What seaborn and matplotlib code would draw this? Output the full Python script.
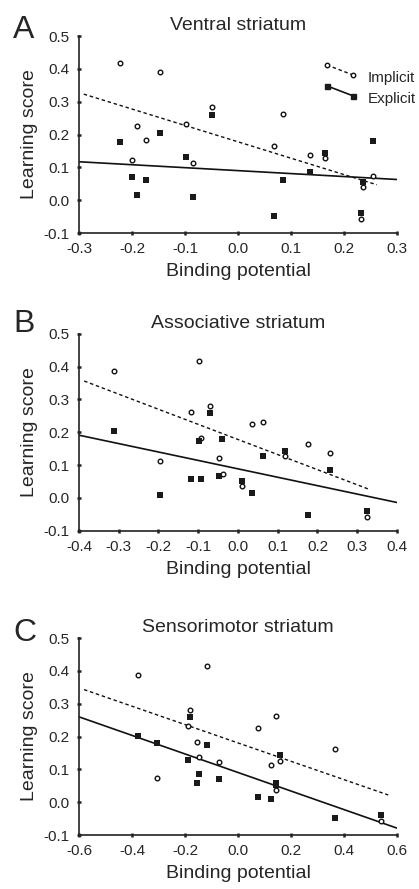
import numpy as np
import matplotlib
matplotlib.use('Agg')
import matplotlib.pyplot as plt
import seaborn as sns
from matplotlib.lines import Line2D
from matplotlib.legend_handler import HandlerLine2D

# Panel A - ventral striatum
A_imp_x = [-0.223, -0.148, -0.191, -0.174, -0.200, -0.098, -0.085, -0.049, 0.068, 0.085, 0.135, 0.165, 0.235, 0.232, 0.254]
A_imp_y = [0.417, 0.389, 0.227, 0.183, 0.122, 0.231, 0.113, 0.283, 0.164, 0.263, 0.138, 0.128, 0.039, -0.057, 0.074]
A_exp_x = [-0.222, -0.200, -0.191, -0.174, -0.148, -0.098, -0.085, -0.049, 0.068, 0.085, 0.135, 0.165, 0.235, 0.232, 0.254]
A_exp_y = [0.176, 0.070, 0.016, 0.060, 0.205, 0.131, 0.010, 0.260, -0.049, 0.060, 0.087, 0.143, 0.054, -0.039, 0.179]
A_imp_fit_x = [-0.291, 0.262]
A_imp_fit_y = [0.323, 0.047]
A_exp_fit_x = [-0.3, 0.3]
A_exp_fit_y = [0.117, 0.063]

# Panel B - associative striatum
B_imp_x = [-0.312, -0.098, -0.118, -0.070, -0.094, 0.036, 0.064, -0.048, -0.038, -0.195, 0.011, 0.117, 0.176, 0.231, 0.325]
B_imp_y = [0.386, 0.416, 0.261, 0.281, 0.183, 0.226, 0.230, 0.122, 0.073, 0.111, 0.037, 0.128, 0.163, 0.137, -0.059]
B_exp_x = [-0.312, -0.070, -0.099, -0.039, -0.118, -0.094, -0.048, -0.195, 0.011, 0.036, 0.064, 0.117, 0.176, 0.231, 0.325]
B_exp_y = [0.203, 0.258, 0.174, 0.178, 0.058, 0.058, 0.068, 0.008, 0.052, 0.014, 0.129, 0.142, -0.051, 0.085, -0.041]
B_imp_fit_x = [-0.387, 0.328]
B_imp_fit_y = [0.356, 0.027]
B_exp_fit_x = [-0.4, 0.4]
B_exp_fit_y = [0.191, -0.014]

# Panel C - sensorimotor striatum
C_imp_x = [-0.377, -0.116, -0.180, -0.188, -0.155, -0.148, -0.073, -0.307, 0.075, 0.142, 0.124, 0.159, 0.144, 0.365, 0.541]
C_imp_y = [0.387, 0.416, 0.282, 0.232, 0.183, 0.138, 0.123, 0.073, 0.227, 0.263, 0.113, 0.127, 0.038, 0.163, -0.056]
C_exp_x = [-0.377, -0.307, -0.180, -0.188, -0.117, -0.148, -0.155, -0.073, 0.075, 0.124, 0.142, 0.144, 0.159, 0.365, 0.541]
C_exp_y = [0.203, 0.179, 0.259, 0.130, 0.175, 0.086, 0.060, 0.070, 0.016, 0.010, 0.060, 0.051, 0.143, -0.048, -0.040]
C_imp_fit_x = [-0.581, 0.567]
C_imp_fit_y = [0.343, 0.022]
C_exp_fit_x = [-0.6, 0.6]
C_exp_fit_y = [0.260, -0.079]

titles = ['Ventral striatum', 'Associative striatum', 'Sensorimotor striatum']
letters = ['A', 'B', 'C']
x_ticks = [
    [-0.3, -0.2, -0.1, 0.0, 0.1, 0.2, 0.3],
    [-0.4, -0.3, -0.2, -0.1, 0.0, 0.1, 0.2, 0.3, 0.4],
    [-0.6, -0.4, -0.2, 0.0, 0.2, 0.4, 0.6],
]
y_ticks = [-0.1, 0.0, 0.1, 0.2, 0.3, 0.4, 0.5]

sns.set_style('ticks')
plt.rcParams['font.family'] = ['Liberation Sans', 'DejaVu Sans']
plt.rcParams['axes.unicode_minus'] = False


class SlantHandler(HandlerLine2D):
    # legend handle drawn as a slanted segment, like in the paper
    def create_artists(self, legend, orig_handle, xdescent, ydescent,
                       width, height, fontsize, trans):
        lines = super().create_artists(legend, orig_handle, xdescent, ydescent,
                                       width, height, fontsize, trans)
        y0 = (height - ydescent) / 2
        for ln in lines:
            ln.set_ydata([y0 + 0.75 * fontsize, y0 + 0.1 * fontsize])
        return lines


fig = plt.figure(figsize=(4.19, 8.89), dpi=100)
bottoms = [0.7379, 0.403, 0.0607]
letter_y = [1 - 38 / 889, 1 - 331.5 / 889, 1 - 641 / 889]
dash = (0, (2.5, 2))

panels = [
    (A_imp_x, A_imp_y, A_exp_x, A_exp_y, A_imp_fit_x, A_imp_fit_y, A_exp_fit_x, A_exp_fit_y),
    (B_imp_x, B_imp_y, B_exp_x, B_exp_y, B_imp_fit_x, B_imp_fit_y, B_exp_fit_x, B_exp_fit_y),
    (C_imp_x, C_imp_y, C_exp_x, C_exp_y, C_imp_fit_x, C_imp_fit_y, C_exp_fit_x, C_exp_fit_y),
]

for i, (ix, iy, ex, ey, ifx, ify, efx, efy) in enumerate(panels):
    ax = fig.add_axes([0.1885, bottoms[i], 0.759, 0.2216])

    sns.lineplot(x=efx, y=efy, ax=ax, color='#111111', lw=1.2)
    sns.lineplot(x=ifx, y=ify, ax=ax, color='#111111', lw=1.0, linestyle=dash)
    sns.scatterplot(x=ix, y=iy, ax=ax, marker='o', s=11, color='white',
                    edgecolor='#111111', linewidth=1.0, zorder=3)
    sns.scatterplot(x=ex, y=ey, ax=ax, marker='s', s=15, color='#1a1a1a',
                    linewidth=0, zorder=3)

    xt = x_ticks[i]
    ax.set_xlim(xt[0], xt[-1])
    ax.set_ylim(-0.1, 0.5)
    ax.set_xticks(xt)
    ax.set_xticklabels([f'{v:.1f}' for v in xt])
    ax.set_yticks(y_ticks)
    ax.set_yticklabels([f'{v:.1f}' for v in y_ticks])
    sns.despine(ax=ax)
    for side in ['left', 'bottom']:
        ax.spines[side].set_linewidth(1.2)
        ax.spines[side].set_color('#222222')
    ax.tick_params(direction='inout', length=3, width=1.8, color='#222222',
                   labelsize=11, pad=5)

    ax.set_title(titles[i], fontsize=14, pad=4)
    ax.set_xlabel('Binding potential', fontsize=14, labelpad=5)
    ax.set_ylabel('Learning score', fontsize=14, labelpad=4)
    fig.text(13 / 419, letter_y[i], letters[i], fontsize=23, va='baseline', ha='left')

    if i == 0:
        handles = [
            Line2D([], [], color='#111111', lw=1.0, linestyle=dash, marker='o', ms=3.2,
                   mfc='white', mec='#111111', mew=1.0),
            Line2D([], [], color='#111111', lw=1.2, marker='s', ms=3.6, mfc='#1a1a1a', mec='#1a1a1a'),
        ]
        ax.legend(handles, ['Implicit', 'Explicit'], frameon=False, fontsize=11,
                  loc='center left', bbox_to_anchor=(0.765, 0.735), numpoints=2,
                  handlelength=2.3, handletextpad=0.68, labelspacing=0.45,
                  borderpad=0, borderaxespad=0,
                  handler_map={Line2D: SlantHandler()})

fig.savefig('out.png', dpi=100)
